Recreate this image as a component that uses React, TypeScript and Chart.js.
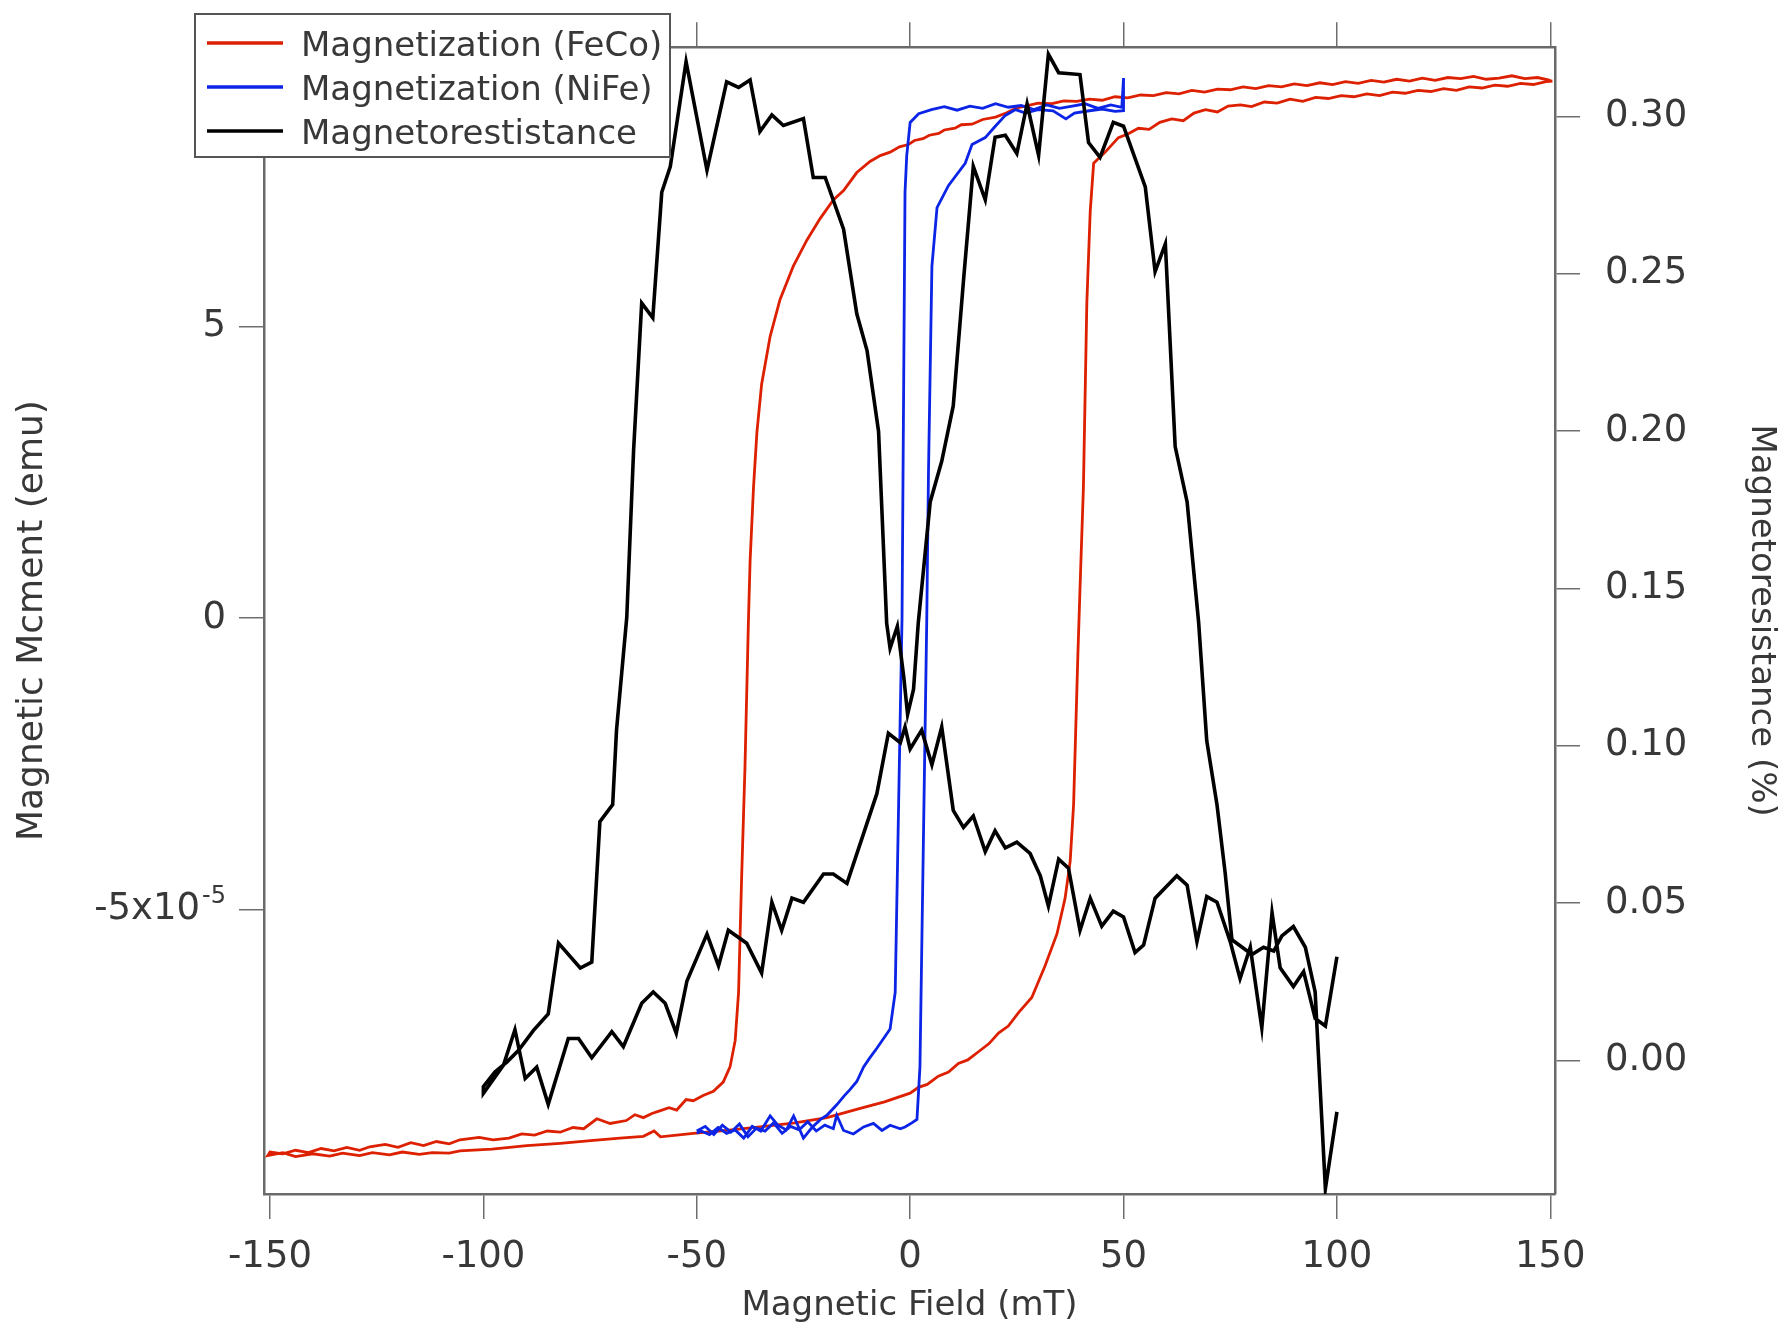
import React, { useEffect, useRef } from 'react';
import { Chart, registerables } from 'chart.js';

Chart.register(...registerables);

const W = 1787;
const H = 1331;

// ---- axis ticks ----
const FIELD_TICKS = [-150, -100, -50, 0, 50, 100, 150];
const MOMENT_TICKS = [-5, 0, 5];
const MR_TICKS = [0, 0.05, 0.1, 0.15, 0.2, 0.25, 0.3];
const MOMENT_EXP_TICK = -5; // tick carrying the "x10^-5" multiplier

const FIELD_MIN = -151.4;
const FIELD_MAX = 151.1;
const MOMENT_MIN = -9.88;
const MOMENT_MAX = 9.79;
const MR_MIN = -0.0424;
const MR_MAX = 0.322;

// ---- FeCo magnetization (units of 1e-5 emu): descending branch (+150 -> -150) ----
const FECO_DOWN_FIELD = [
  150, 147, 144, 141, 138, 135, 132, 129, 126, 123, 120, 117, 114, 111, 108, 105, 102, 99, 96,
  93, 90, 87, 84, 81, 78, 75, 72, 69, 66, 63, 60, 57, 54, 51, 48, 45, 42, 39, 36, 33, 30, 27,
  25, 22.5, 20, 17, 14.5, 12, 10.5, 8, 6.7, 4.5, 3, 1, -0.4, -2.5, -4.7, -7, -9.4, -12.5, -15.6,
  -18.0, -21.1, -24.2, -27.4, -30.5, -32.8, -34.8, -35.9, -36.7, -37.5, -37.9, -38.7, -39.5,
  -40.2, -41.0, -42.2, -43.8, -46.1, -48.5, -50.8, -52.5, -54.7, -56.5, -58.5, -60.5, -62.5,
  -64.5, -66.5, -70.3, -73.4, -76.5, -79, -82.0, -85, -88, -91, -94, -97.7, -101, -105.5, -108,
  -111, -114, -117, -120, -123, -126.6, -129, -132, -135, -138, -141, -144, -147, -150,
];
const FECO_DOWN_MOMENT = [
  9.22, 9.27, 9.25, 9.30, 9.26, 9.24, 9.29, 9.25, 9.27, 9.22, 9.26, 9.21, 9.24, 9.19, 9.22,
  9.17, 9.20, 9.15, 9.18, 9.13, 9.16, 9.11, 9.13, 9.08, 9.11, 9.06, 9.07, 9.02, 9.05, 8.99,
  9.01, 8.96, 8.97, 8.92, 8.94, 8.88, 8.90, 8.86, 8.87, 8.82, 8.83, 8.78, 8.75, 8.66, 8.59,
  8.55, 8.47, 8.46, 8.40, 8.37, 8.31, 8.28, 8.22, 8.19, 8.12, 8.08, 7.99, 7.93, 7.83, 7.64,
  7.33, 7.17, 6.85, 6.48, 6.03, 5.46, 4.83, 4.01, 3.19, 2.24, 0.98, -0.08, -2.56, -4.49, -6.42,
  -7.25, -7.70, -7.96, -8.12, -8.19, -8.28, -8.26, -8.44, -8.40, -8.45, -8.50, -8.57, -8.52,
  -8.62, -8.67, -8.59, -8.76, -8.74, -8.82, -8.80, -8.87, -8.85, -8.92, -8.95, -8.91, -8.95,
  -9.02, -8.98, -9.05, -9.00, -9.08, -9.03, -9.07, -9.13, -9.08, -9.14, -9.10, -9.17, -9.13,
  -9.19, -9.16,
];
// ---- FeCo ascending branch (-150 -> +150) ----
const FECO_UP_FIELD = [
  -150.5, -147, -144, -140, -136, -133, -129, -126, -122, -119, -115, -112, -108, -105.5, -98,
  -89.8, -82, -74.2, -68, -62.5, -60, -58.5, -50.8, -43, -35.2, -27, -19.5, -11.7, -6, 0, 1.95,
  4, 6.6, 9, 11.3, 13.5, 16.0, 18.5, 20.7, 23, 25.4, 28.5, 31.6, 34.4, 36.3, 37.5, 38.3, 38.8,
  39.3, 39.8, 40.6, 41.4, 42.2, 43.0, 45.7, 48.8, 51, 53.5, 56, 58.5, 61.3, 64, 66.5, 69.2, 72,
  74.5, 77.4, 80, 83, 86, 89, 92, 95, 98, 101, 104, 107, 110, 113, 116, 119, 122, 125, 128, 131,
  134, 137, 140, 143, 146, 149, 150.5,
];
const FECO_UP_MOMENT = [
  -9.22, -9.17, -9.24, -9.19, -9.23, -9.18, -9.22, -9.17, -9.21, -9.16, -9.20, -9.17, -9.18,
  -9.14, -9.11, -9.05, -9.01, -8.96, -8.92, -8.89, -8.80, -8.90, -8.84, -8.79, -8.73, -8.66,
  -8.57, -8.41, -8.30, -8.15, -8.05, -8.00, -7.86, -7.79, -7.64, -7.58, -7.44, -7.30, -7.12,
  -7.00, -6.77, -6.51, -5.97, -5.42, -4.81, -4.17, -3.20, -1.92, -0.64, 0.5, 2.24, 5.40, 6.98,
  7.80, 7.99, 8.24, 8.30, 8.40, 8.38, 8.50, 8.56, 8.53, 8.66, 8.72, 8.68, 8.78, 8.80, 8.77,
  8.85, 8.83, 8.90, 8.86, 8.93, 8.91, 8.96, 8.94, 8.99, 8.96, 9.02, 9.00, 9.05, 9.03, 9.08,
  9.05, 9.11, 9.09, 9.14, 9.12, 9.17, 9.15, 9.20, 9.21,
];

// ---- NiFe magnetization (units of 1e-5 emu): ascending branch then descending branch ----
const NIFE_FIELD = [
  -50, -48, -46, -44, -42, -40, -38, -36, -34, -32, -30, -28, -26, -24, -22, -20, -18, -17.2,
  -15.6, -13.3, -10.9, -8.6, -6.6, -4.7, -2.3, -1.2, 0.4, 1.6, 2.3, 3.1, 3.9, 4.3, 5.1, 6.3,
  9.0, 12.9, 14.5, 17.6, 19.9, 22.3, 24.7, 27, 30, 33.5, 36.5, 38.5, 42, 45, 48, 50,
  50, 49.6, 47, 44, 41, 38, 35, 32, 29, 26, 23, 20, 17, 14, 11, 8, 5, 2.0, 0.0, -0.8, -1.2, -1.9,
  -2.7, -3.5, -4.7, -5.9, -7.8, -9.5, -10.9, -12.5, -14.1, -15.5, -17.2, -19.5, -21, -23, -25,
  -27.3, -29, -31, -32.8, -35, -37, -39, -41, -43, -45, -47, -49, -50,
];
const NIFE_MOMENT = [
  -8.80, -8.72, -8.86, -8.70, -8.82, -8.68, -8.90, -8.75, -8.80, -8.66, -8.84, -8.72, -8.78,
  -8.64, -8.80, -8.70, -8.76, -8.53, -8.79, -8.85, -8.73, -8.67, -8.79, -8.70, -8.76, -8.73,
  -8.66, -8.60, -7.70, -3.85, 0.0, 2.5, 6.03, 7.04, 7.42, 7.80, 8.12, 8.24, 8.43, 8.62, 8.72,
  8.66, 8.72, 8.70, 8.56, 8.66, 8.70, 8.73, 8.69, 8.70,
  9.26, 8.76, 8.80, 8.74, 8.82, 8.78, 8.74, 8.80, 8.72, 8.79, 8.76, 8.82, 8.74, 8.78, 8.71, 8.77,
  8.72, 8.65, 8.50, 7.93, 7.30, 0.0, -3.20, -6.42, -7.05, -7.18, -7.38, -7.55, -7.70, -7.95,
  -8.09, -8.20, -8.35, -8.53, -8.60, -8.74, -8.92, -8.54, -8.78, -8.70, -8.54, -8.80, -8.72,
  -8.92, -8.78, -8.84, -8.74, -8.86, -8.80, -8.84,
];

// ---- Magnetoresistance (%): from +100 down to -100, then back up to +100 ----
const MR_FIELD = [
  100.0, 97.3, 94.9, 92.2, 89.8, 86.7, 84.8, 82.4, 79.7, 77.3, 75.0, 71.9, 69.5, 67.2, 64.9,
  62.5, 57.4, 54.7, 52.7, 50.0, 47.6, 44.9, 42.2, 39.8, 37.1, 34.8, 32.4, 30.5, 28.1, 25.0,
  22.3, 19.9, 17.6, 14.8, 12.5, 10.1, 7.4, 5.1, 2.7, 0.0, -1.2, -2.3, -5.1, -7.8, -14.8, -18.0,
  -20.3, -25.0, -27.7, -30.1, -32.4, -34.8, -38.3, -42.6, -44.9, -47.6, -52.3, -54.8, -57.4,
  -60.2, -62.9, -67.2, -69.9, -74.6, -77.7, -80.1, -84.8, -87.5, -90.2, -92.6, -95.3, -100.0,
  -100.0, -97.3, -94.5, -91.8, -88.3, -84.8, -82.4, -77.3, -74.6, -72.7, -69.7, -68.8, -66.4,
  -64.8, -62.9, -60.3, -58.2, -56.2, -52.5, -47.6, -43.0, -40.2, -37.5, -35.2, -32.4, -29.7,
  -25.0, -22.7, -19.9, -15.6, -12.5, -10.1, -7.4, -5.5, -4.7, -3.0, -1.5, -0.6, 0.8, 1.9, 4.7,
  7.4, 10.1, 12.5, 14.8, 17.6, 19.9, 22.3, 25.0, 27.4, 30.1, 32.4, 34.8, 39.8, 41.8, 44.5, 47.6,
  50.0, 55.1, 57.4, 59.8, 62.1, 64.9, 67.6, 69.5, 71.9, 73.8, 75.4, 80.1, 82.8, 85.2, 87.1,
  89.8, 92.6, 94.9, 97.3, 100.0,
];
const MR_VALUE = [
  0.033, 0.011, 0.0134, 0.0283, 0.0235, 0.0295, 0.047, 0.0104, 0.036, 0.026, 0.0378, 0.0503,
  0.0521, 0.0378, 0.0557, 0.0587, 0.0516, 0.0367, 0.0343, 0.0456, 0.0475, 0.0427, 0.0516,
  0.0414, 0.0611, 0.064, 0.0491, 0.0587, 0.0658, 0.0694, 0.0676, 0.073, 0.0664, 0.0777, 0.0741,
  0.0795, 0.106, 0.094, 0.105, 0.099, 0.106, 0.101, 0.104, 0.0848, 0.0563, 0.0593, 0.0593,
  0.0503, 0.0516, 0.0414, 0.0503, 0.0278, 0.0373, 0.0414, 0.0301, 0.0402, 0.0253, 0.0087,
  0.0182, 0.0218, 0.0182, 0.0044, 0.0092, 0.0009, 0.007, 0.007, -0.0139, -0.0021, -0.0057,
  0.0098, -0.0015, -0.0104,
  -0.0083, -0.0036, -0.0005, 0.0032, 0.0095, 0.0148, 0.0373, 0.0294, 0.0313, 0.0759, 0.0813,
  0.105, 0.1408, 0.1939, 0.2407, 0.236, 0.2759, 0.2841, 0.3174, 0.2829, 0.311, 0.3092, 0.3116,
  0.2952, 0.3005, 0.2971, 0.2993, 0.2806, 0.2806, 0.2642, 0.2373, 0.2256, 0.1999, 0.139, 0.131,
  0.138, 0.122, 0.11, 0.118, 0.139, 0.1775, 0.1904, 0.208, 0.2478, 0.2841, 0.2735, 0.2934, 0.294,
  0.2882, 0.304, 0.2876, 0.3198, 0.3139, 0.3133, 0.2917, 0.287, 0.2981, 0.2969, 0.2776, 0.2507,
  0.2595, 0.1951, 0.1775, 0.1392, 0.1016, 0.0813, 0.0598, 0.0384, 0.0337, 0.036, 0.0348,
  0.0396, 0.0426, 0.036, 0.0218, -0.0407, -0.0163,
];

const SERIES_LABELS = ['Magnetization (FeCo)', 'Magnetization (NiFe)', 'Magnetorestistance'];
const SERIES_COLORS = ['#dc2000', '#0b24e6', '#000000'];

const FONT = '"DejaVu Sans", Verdana, sans-serif';
const TEXT_COLOR = '#383838';

function pairs(xs: number[], ys: number[]) {
  return xs.map((x, i) => ({ x, y: ys[i] }));
}

// Draws the "-5x10^-5" label with a real superscript, at the y scale's pixel for that tick.
const exponentLabelPlugin = {
  id: 'exponentLabel',
  afterDraw(chart: any) {
    const scale = chart.scales.y;
    if (!scale) return;
    const ctx = chart.ctx as CanvasRenderingContext2D;
    const y = scale.getPixelForValue(MOMENT_EXP_TICK);
    const xRight = scale.right - 25 - 13;
    ctx.save();
    ctx.fillStyle = TEXT_COLOR;
    ctx.textBaseline = 'middle';
    ctx.font = `24px ${FONT}`;
    ctx.textAlign = 'right';
    const sup = String(MOMENT_EXP_TICK);
    ctx.fillText(sup, xRight, y - 13);
    const supW = ctx.measureText(sup).width;
    ctx.font = `37px ${FONT}`;
    ctx.fillText(`${MOMENT_EXP_TICK}x10`, xRight - supW - 2, y);
    ctx.restore();
  },
};

const legendBoxPlugin = {
  id: 'legendBox',
  afterDraw(chart: any) {
    const ctx = chart.ctx as CanvasRenderingContext2D;
    ctx.save();
    const bx = 195, by = 14, bw = 475, bh = 143;
    ctx.fillStyle = '#ffffff';
    ctx.fillRect(bx, by, bw, bh);
    ctx.strokeStyle = '#555555';
    ctx.lineWidth = 2;
    ctx.strokeRect(bx, by, bw, bh);
    chart.data.datasets.forEach((ds: any, i: number) => {
      const y = 43 + i * 44;
      ctx.strokeStyle = ds.borderColor;
      ctx.lineWidth = 3.5;
      ctx.beginPath();
      ctx.moveTo(207, y);
      ctx.lineTo(283, y);
      ctx.stroke();
      ctx.fillStyle = TEXT_COLOR;
      ctx.font = `34px ${FONT}`;
      ctx.textBaseline = 'alphabetic';
      ctx.textAlign = 'left';
      ctx.fillText(ds.label, 301, y + 13);
    });
    ctx.restore();
  },
};

export default function App() {
  const ref = useRef<HTMLCanvasElement | null>(null);

  useEffect(() => {
    document.body.style.margin = '0';
    document.body.style.overflow = 'hidden';
    const canvas = ref.current;
    if (!canvas) return;

    const grid = {
      drawOnChartArea: false,
      drawTicks: true,
      tickLength: 25,
      color: '#6e6e6e',
      lineWidth: 1.5,
    };
    const border = { display: true, color: '#6a6a6a', width: 2.5 };
    const tickFont = { family: FONT, size: 37 };
    const titleFont = { family: FONT, size: 34 };

    const fecoData = pairs(FECO_DOWN_FIELD, FECO_DOWN_MOMENT).concat(
      pairs(FECO_UP_FIELD, FECO_UP_MOMENT)
    );

    const chart = new Chart(canvas, {
      type: 'scatter',
      data: {
        datasets: [
          {
            label: SERIES_LABELS[0],
            data: fecoData,
            borderColor: SERIES_COLORS[0],
            backgroundColor: SERIES_COLORS[0],
            borderWidth: 2.8,
            showLine: true,
            pointRadius: 0,
            tension: 0,
            xAxisID: 'x',
            yAxisID: 'y',
            order: 2,
          },
          {
            label: SERIES_LABELS[1],
            data: pairs(NIFE_FIELD, NIFE_MOMENT),
            borderColor: SERIES_COLORS[1],
            backgroundColor: SERIES_COLORS[1],
            borderWidth: 2.8,
            showLine: true,
            pointRadius: 0,
            tension: 0,
            xAxisID: 'x',
            yAxisID: 'y',
            order: 1,
          },
          {
            label: SERIES_LABELS[2],
            data: pairs(MR_FIELD, MR_VALUE),
            borderColor: SERIES_COLORS[2],
            backgroundColor: SERIES_COLORS[2],
            borderWidth: 3.6,
            showLine: true,
            pointRadius: 0,
            tension: 0,
            xAxisID: 'x',
            yAxisID: 'y2',
            order: 0,
          },
        ],
      },
      options: {
        animation: false,
        responsive: false,
        devicePixelRatio: 1,
        layout: { padding: 0 },
        plugins: {
          legend: { display: false },
          tooltip: { enabled: false },
          title: { display: false },
        },
        scales: {
          x: {
            type: 'linear',
            position: 'bottom',
            min: FIELD_MIN,
            max: FIELD_MAX,
            grid,
            border,
            afterBuildTicks: (s: any) => {
              s.ticks = FIELD_TICKS.map((value) => ({ value }));
            },
            afterFit: (s: any) => {
              s.height = 137;
            },
            ticks: {
              font: tickFont,
              color: TEXT_COLOR,
              padding: 16,
              autoSkip: false,
              maxRotation: 0,
              callback: (v: any) => String(v),
            },
            title: {
              display: true,
              text: 'Magnetic Field (mT)',
              font: titleFont,
              color: TEXT_COLOR,
              padding: { top: 0, bottom: 4 },
            },
          },
          xTop: {
            type: 'linear',
            position: 'top',
            min: FIELD_MIN,
            max: FIELD_MAX,
            grid,
            border,
            afterBuildTicks: (s: any) => {
              s.ticks = FIELD_TICKS.map((value) => ({ value }));
            },
            afterFit: (s: any) => {
              s.height = 42;
            },
            ticks: { display: false },
          },
          y: {
            type: 'linear',
            position: 'left',
            min: MOMENT_MIN,
            max: MOMENT_MAX,
            grid,
            border,
            afterBuildTicks: (s: any) => {
              s.ticks = MOMENT_TICKS.map((value) => ({ value }));
            },
            afterFit: (s: any) => {
              s.width = 264;
            },
            ticks: {
              font: tickFont,
              color: TEXT_COLOR,
              padding: 13,
              autoSkip: false,
              callback: (v: any) => (v === MOMENT_EXP_TICK ? '' : String(v)),
            },
            title: {
              display: true,
              text: 'Magnetic Mcment (emu)',
              font: { family: FONT, size: 36 },
              color: TEXT_COLOR,
              padding: { top: 11, bottom: 0 },
            },
          },
          y2: {
            type: 'linear',
            position: 'right',
            min: MR_MIN,
            max: MR_MAX,
            grid,
            border,
            afterBuildTicks: (s: any) => {
              s.ticks = MR_TICKS.map((value) => ({ value }));
            },
            afterFit: (s: any) => {
              s.width = 232;
            },
            ticks: {
              font: tickFont,
              color: TEXT_COLOR,
              padding: 25,
              autoSkip: false,
              callback: (v: any) => Number(v).toFixed(2),
            },
            title: {
              display: true,
              text: 'Magnetoresistance (%)',
              font: titleFont,
              color: TEXT_COLOR,
              padding: { top: 6, bottom: 0 },
            },
          },
        },
      } as any,
      plugins: [exponentLabelPlugin, legendBoxPlugin],
    });

    return () => chart.destroy();
  }, []);

  return (
    <canvas
      ref={ref}
      width={W}
      height={H}
      style={{ display: 'block', width: W, height: H }}
    />
  );
}
